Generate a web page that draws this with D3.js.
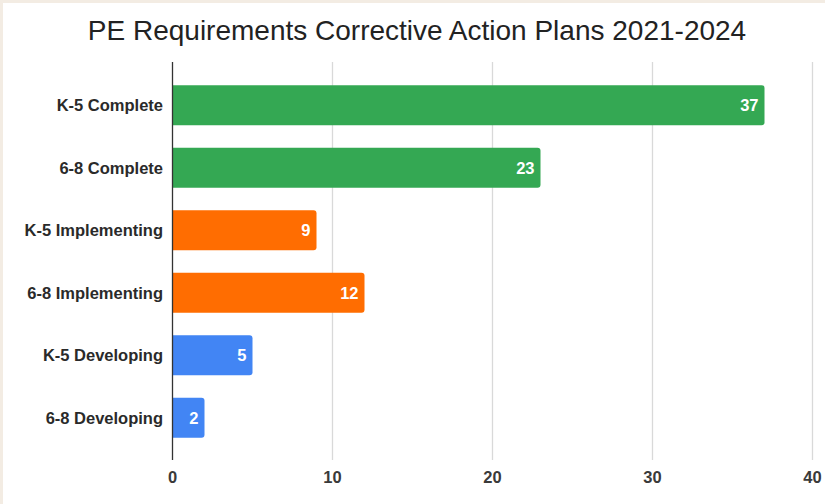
<!DOCTYPE html>
<html>
<head>
<meta charset="utf-8">
<script src="https://cdn.jsdelivr.net/npm/d3@7"></script>
<style>
html, body { margin: 0; padding: 0; background: #f3ece3; }
svg { display: block; }
text { font-family: "Liberation Sans", Arial, sans-serif; }
</style>
</head>
<body>
<div class="chart"></div>
<script>
var categories = ['K-5 Complete', '6-8 Complete', 'K-5 Implementing', '6-8 Implementing', 'K-5 Developing', '6-8 Developing'];
var values = [37, 23, 9, 12, 5, 2];
var barColors = ['#34a853', '#34a853', '#ff6d01', '#ff6d01', '#4285f4', '#4285f4'];
var xTicks = [0, 10, 20, 30, 40];

var data = categories.map(function(c, i){ return {name: c, value: values[i], color: barColors[i]}; });

var svg = d3.select('div.chart')
.append('svg')
.attr('width', 825)
.attr('height', 504)
;

// white card, beige frame only on top/left
svg.append('rect')
.attr('x', 3).attr('y', 3)
.attr('width', 822).attr('height', 501)
.attr('fill', '#ffffff')
;

var x = d3.scaleLinear()
.domain([0, 40])
.range([172.5, 812.5])
;

var y = d3.scaleBand()
.domain(categories)
.range([74, 449])
.paddingInner(0.36)
.paddingOuter(0.18)
;

svg.append('text')
.attr('x', 417)
.attr('y', 40)
.attr('text-anchor', 'middle')
.style('font-size', '28px')
.style('fill', '#222')
.text('PE Requirements Corrective Action Plans 2021-2024')
;

// vertical gridlines
svg.append('g')
.selectAll('line')
.data(xTicks.slice(1))
.enter()
.append('line')
.attr('x1', function(d){ return x(d); })
.attr('x2', function(d){ return x(d); })
.attr('y1', 62)
.attr('y2', 460)
.attr('stroke', '#d9d9d9')
.attr('stroke-width', 1.3)
;

var barPath = function(d){
    var x0 = x(0), x1 = x(d.value), y0 = y(d.name), h = y.bandwidth(), r = 3;
    return 'M' + x0 + ',' + y0 + 'H' + (x1 - r) + 'Q' + x1 + ',' + y0 + ' ' + x1 + ',' + (y0 + r)
        + 'V' + (y0 + h - r) + 'Q' + x1 + ',' + (y0 + h) + ' ' + (x1 - r) + ',' + (y0 + h) + 'H' + x0 + 'Z';
};

svg.append('g')
.selectAll('path')
.data(data)
.enter()
.append('path')
.attr('d', barPath)
.attr('fill', function(d){ return d.color; })
;

svg.append('g')
.selectAll('text')
.data(data)
.enter()
.append('text')
.attr('x', function(d){ return x(d.value) - 6; })
.attr('y', function(d){ return y(d.name) + y.bandwidth() / 2; })
.attr('dy', '0.36em')
.attr('text-anchor', 'end')
.style('font-size', '16.5px')
.style('font-weight', 'bold')
.style('fill', '#ffffff')
.text(function(d){ return d.value; })
;

// category labels
svg.append('g')
.selectAll('text')
.data(categories)
.enter()
.append('text')
.attr('x', 163)
.attr('y', function(d){ return y(d) + y.bandwidth() / 2; })
.attr('dy', '0.36em')
.attr('text-anchor', 'end')
.style('font-size', '16.5px')
.style('font-weight', 'bold')
.style('fill', '#2a2a2a')
.text(function(d){ return d; })
;

// zero axis line
svg.append('line')
.attr('x1', x(0)).attr('x2', x(0))
.attr('y1', 62).attr('y2', 460)
.attr('stroke', '#333')
.attr('stroke-width', 1.3)
;

svg.append('g')
.selectAll('text')
.data(xTicks)
.enter()
.append('text')
.attr('x', function(d){ return x(d); })
.attr('y', 483)
.attr('text-anchor', 'middle')
.style('font-size', '16.5px')
.style('font-weight', 'bold')
.style('fill', '#3a3a3a')
.text(function(d){ return d; })
;
</script>
</body>
</html>
